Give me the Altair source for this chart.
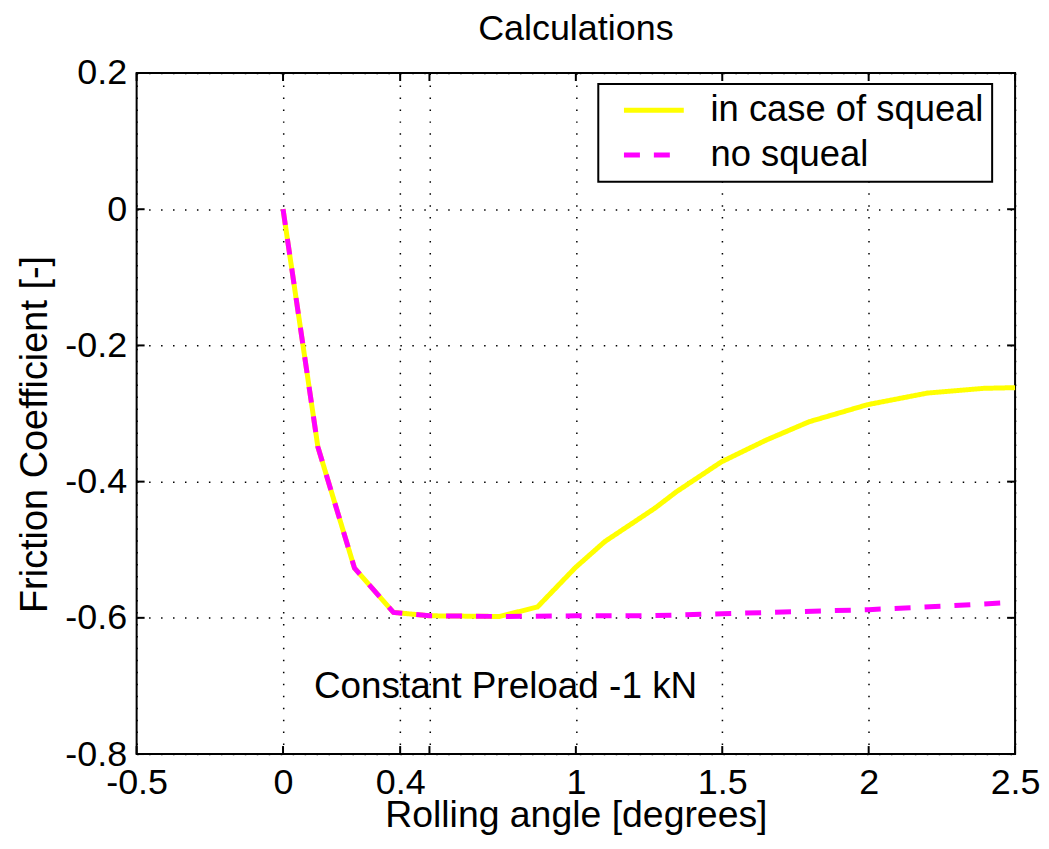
import altair as alt
import pandas as pd

FONT = "Liberation Sans, Arial, Helvetica, sans-serif"

# Series
squeal_x = [0.0, 0.119, 0.244, 0.377, 0.5, 0.74, 0.869, 0.999, 1.099, 1.27, 1.343,
            1.497, 1.65, 1.797, 1.996, 2.2, 2.393, 2.5]
squeal_y = [0.0, -0.349, -0.527, -0.592, -0.597, -0.598, -0.584, -0.526, -0.488, -0.439, -0.415,
            -0.371, -0.339, -0.312, -0.287, -0.270, -0.263, -0.262]
nosq_x = [0.0, 0.119, 0.244, 0.377, 0.5, 0.75, 1.0, 1.25, 1.5, 1.75, 2.0, 2.25, 2.46]
nosq_y = [0.0, -0.349, -0.527, -0.592, -0.597, -0.598, -0.597, -0.597, -0.594, -0.591,
          -0.588, -0.583, -0.578]

series_names = ["in case of squeal", "no squeal"]
series_colors = ["#FFFF00", "#FF00FF"]

x_ticks = [-0.5, 0, 0.4, 0.5, 1, 1.5, 2, 2.5]
y_ticks = [0.2, 0, -0.2, -0.4, -0.6, -0.8]

note_text = ["Constant Preload -1 kN"]
note_x = [0.76]
note_y = [-0.7175]

W, H = 881, 683

df = pd.DataFrame({
    "x": squeal_x + nosq_x,
    "y": squeal_y + nosq_y,
    "series": [series_names[0]] * len(squeal_x) + [series_names[1]] * len(nosq_x),
})
xt = pd.DataFrame({"x": x_ticks})
yt = pd.DataFrame({"y": y_ticks})
note = pd.DataFrame({"x": note_x, "y": note_y, "label": note_text})

X = alt.X("x:Q",
          scale=alt.Scale(domain=[-0.5, 2.5], nice=False, zero=False),
          axis=alt.Axis(values=x_ticks, title="Rolling angle [degrees]",
                        labelExpr="datum.value == 0.5 ? '' : '' + datum.value",
                        labelFlush=False, labelOverlap=False, labelPadding=12,
                        titleY=73, titleBaseline="alphabetic", titleFontSize=37.5))
Y = alt.Y("y:Q",
          scale=alt.Scale(domain=[-0.8, 0.2], nice=False, zero=False),
          axis=alt.Axis(values=y_ticks, title="Friction Coefficient [-]",
                        labelExpr="'' + datum.value", labelOverlap=False,
                        labelPadding=10, titleX=-90, titleY=362, titleAngle=270,
                        titleBaseline="alphabetic", titleAlign="center", titleFontSize=38))

leg = alt.Legend(title=None, orient="none", legendX=463, legendY=11,
                 symbolType="M-2,0H2", symbolSize=900, symbolStrokeWidth=5,
                 labelFontSize=36.5, labelFont=FONT, labelColor="black", labelLimit=0,
                 labelOffset=38.5, rowPadding=8, padding=8, symbolOffset=29.5,
                 strokeColor="black", fillColor="white")

lines = alt.Chart(df).mark_line(strokeWidth=5, strokeCap="butt").encode(
    x=X, y=Y,
    color=alt.Color("series:N", scale=alt.Scale(domain=series_names, range=series_colors), legend=leg),
    strokeDash=alt.StrokeDash("series:N", scale=alt.Scale(domain=series_names, range=[[1, 0], [16, 14]]), legend=leg),
)

tick_bottom = alt.Chart(xt).mark_rule(color="black", strokeWidth=2).encode(
    x=X, y=alt.value(H), y2=alt.value(H - 8))
tick_top = alt.Chart(xt).mark_rule(color="black", strokeWidth=2).encode(
    x=X, y=alt.value(0), y2=alt.value(8))
tick_left = alt.Chart(yt).mark_rule(color="black", strokeWidth=2).encode(
    y=Y, x=alt.value(0), x2=alt.value(8))
tick_right = alt.Chart(yt).mark_rule(color="black", strokeWidth=2).encode(
    y=Y, x=alt.value(W), x2=alt.value(W - 8))

text = alt.Chart(note).mark_text(fontSize=37, font=FONT, align="center",
                                 baseline="alphabetic", color="black").encode(
    x=X, y=Y, text="label:N")

chart = alt.layer(lines, tick_bottom, tick_top, tick_left, tick_right, text).properties(
    width=W, height=H,
    title=alt.TitleParams("Calculations", fontSize=36, font=FONT, fontWeight="normal",
                          color="black", anchor="middle", baseline="alphabetic",
                          offset=4, dy=25),
    autosize=alt.AutoSizeParams(type="none"),
    padding={"left": 129, "top": 64, "right": 26, "bottom": 83},
).configure_axis(
    grid=True, gridColor="black", gridDash=[1.5, 10.5], gridWidth=1.5, gridOpacity=1,
    ticks=False, domain=False,
    labelFont=FONT, labelFontSize=36, labelColor="black",
    titleFont=FONT, titleFontSize=36, titleFontWeight="normal", titleColor="black",
).configure_view(
    stroke="black", strokeWidth=2
).configure_legend(
    strokeWidth=2
)

chart.save("out.html", embed_options={"renderer": "svg", "actions": False})
